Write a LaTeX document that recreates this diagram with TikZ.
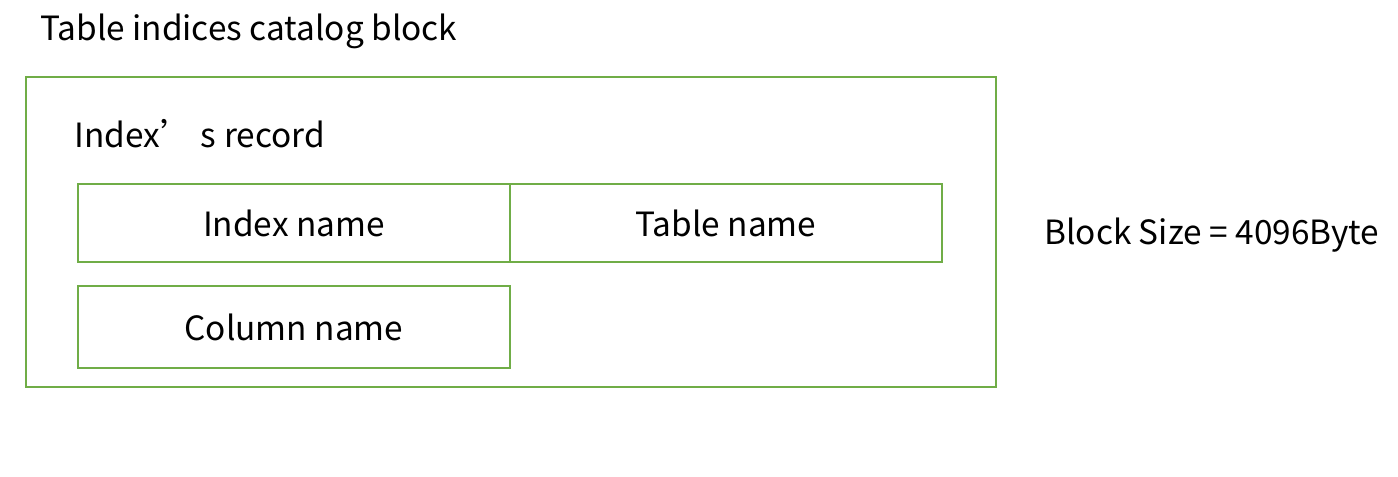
\documentclass[tikz,border=0pt]{standalone}
\usepackage{fontspec}
\setmainfont{Noto Sans CJK SC}
\usepackage{xcolor}
\definecolor{blockgreen}{HTML}{70AD47}
\usetikzlibrary{positioning}

\begin{document}
\begin{tikzpicture}[
    field/.style={draw=blockgreen, line width=1.1pt, inner sep=0pt, outer sep=0pt,
      minimum width=8.64cm, font=\fontsize{19}{22}\selectfont},
    caption/.style={anchor=base west, inner sep=0pt, font=\fontsize{19}{22}\selectfont}
  ]
    \useasboundingbox (0,0) rectangle (27.96,9.52);
    \draw[blockgreen, line width=1.1pt] (0.52,1.78) rectangle (19.92,7.98);
    \node[caption] (title) at (0.8,8.70) {Table indices catalog block};
    \node[caption] (record) at (1.48,6.56) {Index’ s record};
    \node[field, minimum height=1.56cm] (idxname) at (5.88,5.06) {Index name};
    \node[field, minimum height=1.56cm] (tblname) at (14.52,5.06) {Table name};
    \node[field, minimum height=1.64cm] (colname) at (5.88,2.98) {Column name};
    \node[caption] (size) at (20.88,4.62) {Block Size = 4096Byte};
  \end{tikzpicture}
\end{document}
